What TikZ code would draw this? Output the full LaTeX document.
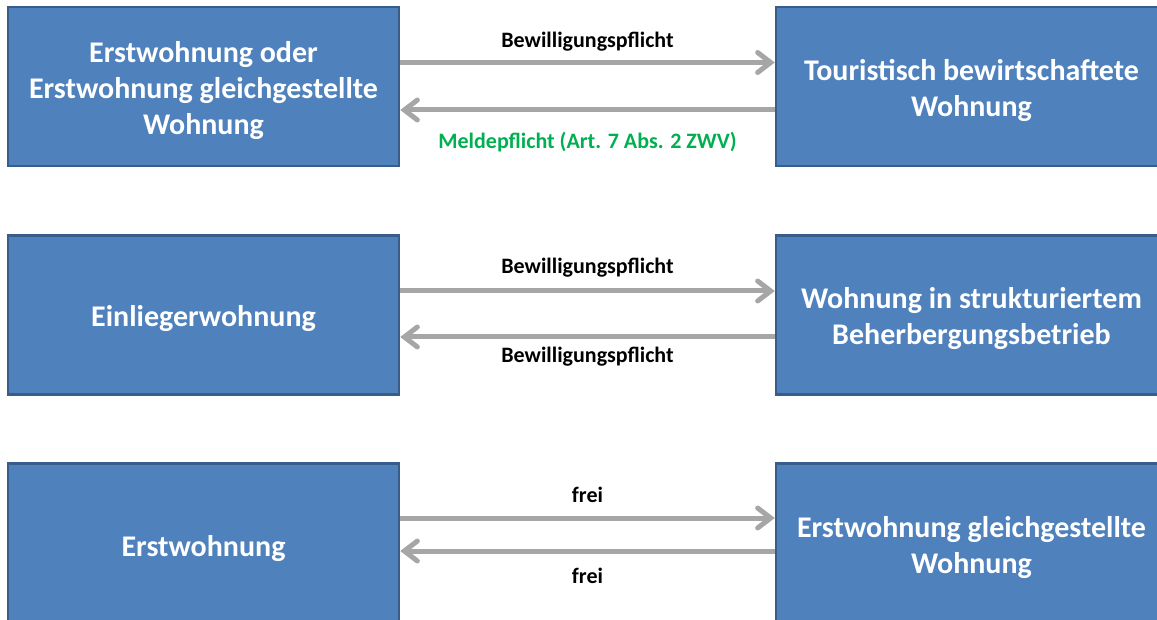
\documentclass[tikz,border=0pt]{standalone}
\usepackage{fontspec}
\setmainfont{Carlito}
\usetikzlibrary{arrows.meta}
\definecolor{boxfill}{HTML}{4F81BD}
\definecolor{boxline}{HTML}{385D8A}
\definecolor{arrgray}{HTML}{A6A6A6}
\definecolor{lblgreen}{HTML}{00B050}
\tikzset{
  box/.style={draw=boxline, line width=2.5pt, fill=boxfill, minimum width=391pt, minimum height=159pt,
    inner sep=0pt},
  boxtext/.style={text=white, align=center, inner sep=0pt, font=\bfseries\fontsize{30}{36}\selectfont},
  conn/.style={draw=arrgray, line width=5pt, -{Straight Barb[length=13pt,width=20pt,line cap=round]}},
  lbl/.style={font=\bfseries\fontsize{22}{24}\selectfont, text=black, inner sep=0pt},
}
\begin{document}
\begin{tikzpicture}[x=1pt,y=-1pt]
\useasboundingbox (0,0) rectangle (1157,620);
\clip (0,0) rectangle (1157,620);
% row 1
\node[box, label={[boxtext, yshift=-4pt]center:Erstwohnung oder\\Erstwohnung gleichgestellte\\Wohnung}] (L1) at (203.5,86.5) {};
\node[box, label={[boxtext, yshift=-4pt]center:Touristisch bewirtschaftete\\Wohnung}] (R1) at (971.5,86.5) {};
% row 2
\node[box, label={[boxtext, yshift=-4pt]center:Einliegerwohnung}] (L2) at (203.5,315) {};
\node[box, label={[boxtext, yshift=-4pt]center:Wohnung in strukturiertem\\Beherbergungsbetrieb}] (R2) at (971.5,315) {};
% row 3
\node[box, label={[boxtext, yshift=-6pt]center:Erstwohnung}] (L3) at (203.5,543) {};
\node[box, label={[boxtext, yshift=-5pt]center:Erstwohnung gleichgestellte\\Wohnung}] (R3) at (971.5,543) {};
% arrows row 1
\draw[conn] ([yshift=24]L1.east) -- node[lbl, yshift=21] {Bewilligungspflicht} ([yshift=24]R1.west);
\draw[conn] ([yshift=-23.5]R1.west) -- node[lbl, yshift=-32, text=lblgreen] {Meldepflicht (Art. 7 Abs. 2 ZWV)} ([yshift=-23.5]L1.east);
% arrows row 2
\draw[conn] ([yshift=24]L2.east) -- node[lbl, yshift=23] {Bewilligungspflicht} ([yshift=24]R2.west);
\draw[conn] ([yshift=-22]R2.west) -- node[lbl, yshift=-20] {Bewilligungspflicht} ([yshift=-22]L2.east);
% arrows row 3
\draw[conn] ([yshift=25]L3.east) -- node[lbl, yshift=23] {frei} ([yshift=25]R3.west);
\draw[conn] ([yshift=-8]R3.west) -- node[lbl, yshift=-25] {frei} ([yshift=-8]L3.east);
\end{tikzpicture}
\end{document}
